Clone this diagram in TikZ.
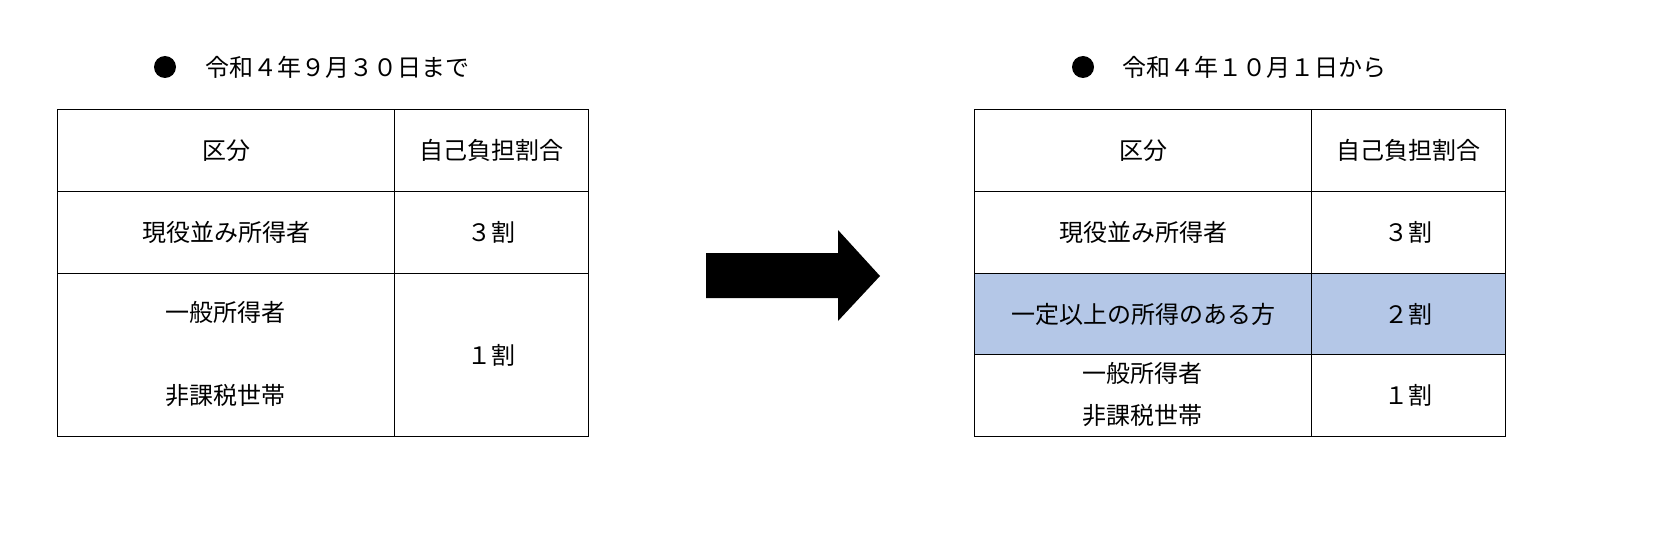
\documentclass[tikz,border=0pt]{standalone}
\usepackage{fontspec}
\setmainfont{Noto Sans CJK JP}
\tikzset{
  cell/.style={draw,line width=0.5pt,anchor=north west,inner sep=0pt,font=\fontsize{12}{14}\selectfont},
  label/.style={inner sep=0pt,font=\fontsize{12}{14}\selectfont},
  hilite/.style={fill=blue!20!cyan!10!white,fill=highlight},
}
\definecolor{highlight}{RGB}{180,199,231}
\begin{document}
\begin{tikzpicture}[x=0.5pt,y=-0.5pt]
  \useasboundingbox (0,0) rectangle (1670,556);
  % left table: until 30 Sep
  \fill (165,67) circle (11) coordinate (bulletL);
  \node[label,anchor=west] (titleL) at (205,67) {令和４年９月３０日まで};
  \node[cell,minimum width=168.5pt,minimum height=41pt] (L11) at (57,109) {区分};
  \node[cell,minimum width=97pt,minimum height=41pt] (L12) at (394,109) {自己負担割合};
  \node[cell,minimum width=168.5pt,minimum height=41pt] (L21) at (57,191) {現役並み所得者};
  \node[cell,minimum width=97pt,minimum height=41pt] (L22) at (394,191) {３割};
  \node[cell,minimum width=168.5pt,minimum height=81.5pt] (L31) at (57,273) {};
  \node[cell,minimum width=97pt,minimum height=81.5pt] (L32) at (394,273) {１割};
  \node[label] (L31a) at (225,312) {一般所得者};
  \node[label] (L31b) at (225,395) {非課税世帯};
  % arrow
  \fill (706,253) -- (838,253) -- (838,230) -- (880,276) -- (838,321) -- (838,298) -- (706,298) -- cycle;
  % right table: from 1 Oct
  \fill (1083,67) circle (11) coordinate (bulletR);
  \node[label,anchor=west] (titleR) at (1122,67) {令和４年１０月１日から};
  \node[cell,minimum width=168.5pt,minimum height=41pt] (R11) at (974,109) {区分};
  \node[cell,minimum width=97pt,minimum height=41pt] (R12) at (1311,109) {自己負担割合};
  \node[cell,minimum width=168.5pt,minimum height=41pt] (R21) at (974,191) {現役並み所得者};
  \node[cell,minimum width=97pt,minimum height=41pt] (R22) at (1311,191) {３割};
  \node[cell,fill=highlight,minimum width=168.5pt,minimum height=40.5pt] (R31) at (974,273) {一定以上の所得のある方};
  \node[cell,fill=highlight,minimum width=97pt,minimum height=40.5pt] (R32) at (1311,273) {２割};
  \node[cell,minimum width=168.5pt,minimum height=41pt] (R41) at (974,354) {};
  \node[cell,minimum width=97pt,minimum height=41pt] (R42) at (1311,354) {１割};
  \node[label] (R41a) at (1142,373) {一般所得者};
  \node[label] (R41b) at (1142,415) {非課税世帯};
\end{tikzpicture}
\end{document}
